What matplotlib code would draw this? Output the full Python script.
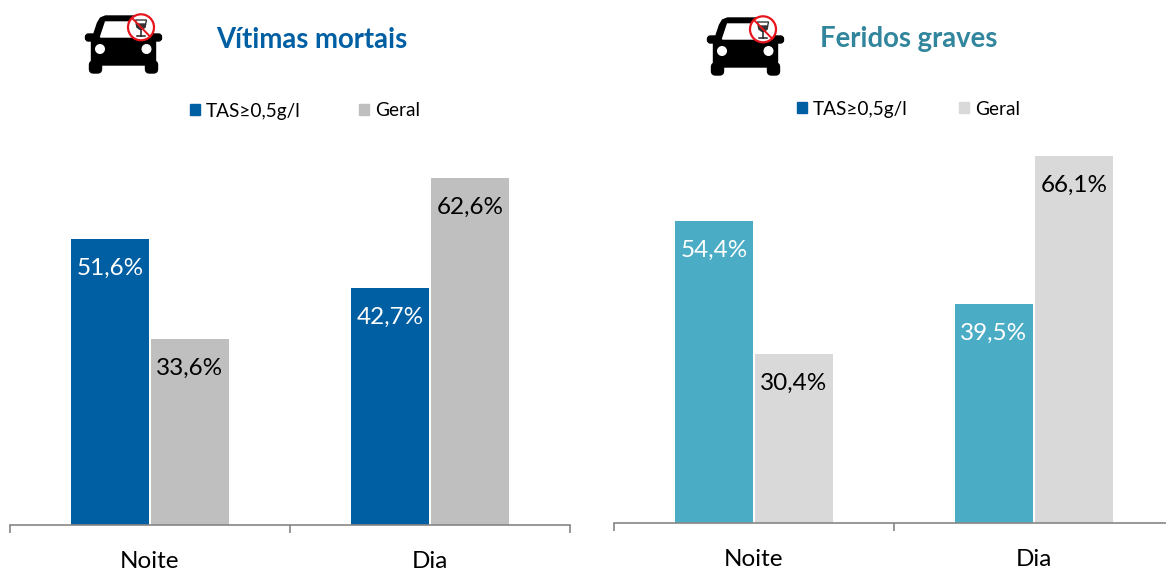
import matplotlib
matplotlib.use('Agg')
import matplotlib.pyplot as plt
from matplotlib.patches import Patch, Polygon, Circle, FancyBboxPatch

plt.rcParams['font.family'] = ['Lato', 'DejaVu Sans']

W, H = 1166, 571

categories = ['Noite', 'Dia']
series_names = ['TAS≥0,5g/l', 'Geral']

mortais_tas = [51.6, 42.7]
mortais_geral = [33.6, 62.6]
graves_tas = [54.4, 39.5]
graves_geral = [30.4, 66.1]


def fmt(v):
    return f'{v:.1f}%'.replace('.', ',')


def draw_panel(fig, left, base, values_a, values_b, color_a, color_b, legend_a, legend_b,
               legend_xy, col_space):
    # 280 px per category, 5.55 px per percent point
    ax = fig.add_axes([left / W, (H - base) / H, 560 / W, 400 / H])
    ax.set_xlim(0, 2)
    ax.set_ylim(0, 400 / 5.55)
    ax.patch.set_alpha(0)
    bw = 78 / 280
    off = 40 / 280
    for i in range(len(categories)):
        x = i + 0.5
        ax.bar(x - off, values_a[i], bw, color=color_a)
        ax.bar(x + off, values_b[i], bw, color=color_b)
        ax.annotate(fmt(values_a[i]), (x - off, values_a[i]), xytext=(0, -21.2),
                    textcoords='offset points', ha='center', va='center',
                    color='white', fontsize=17.5)
        ax.annotate(fmt(values_b[i]), (x + off, values_b[i]), xytext=(0, -21.2),
                    textcoords='offset points', ha='center', va='center',
                    color='black', fontsize=17.5)
    for s in ['top', 'left', 'right']:
        ax.spines[s].set_visible(False)
    ax.spines['bottom'].set_color('#868686')
    ax.spines['bottom'].set_linewidth(1.2)
    ax.set_yticks([])
    ax.set_xticks([0, 1, 2])
    ax.set_xticklabels([])
    ax.tick_params(axis='x', which='major', length=6, width=1.2, color='#868686')
    ax.set_xticks([0.5, 1.5], minor=True)
    ax.set_xticklabels(categories, minor=True, fontsize=17.5, color='black')
    ax.tick_params(axis='x', which='minor', length=0, pad=19)
    handles = [Patch(color=legend_a, label=series_names[0]),
               Patch(color=legend_b, label=series_names[1])]
    fig.legend(handles=handles, loc='center left', frameon=False, ncol=2, fontsize=13.7,
               bbox_to_anchor=(legend_xy[0] / W, 1 - legend_xy[1] / H),
               bbox_transform=fig.transFigure, borderpad=0, borderaxespad=0,
               handlelength=0.53, handleheight=0.53, handletextpad=0.32,
               columnspacing=col_space)
    return ax


def draw_car(ov, ox, oy):
    # icon outline in local pixels, origin at top left of the car
    def p(x, y):
        return (ox + x, oy + y)
    k = 'black'
    ov.add_patch(Polygon([p(6, 26), p(12, 8), p(15, 3), p(20, 1), p(56, 1), p(61, 3), p(64, 8), p(70, 26)],
                         closed=True, color=k))
    ov.add_patch(FancyBboxPatch(p(6, 22), 64, 28, boxstyle='round,pad=0,rounding_size=5', color=k))
    ov.add_patch(FancyBboxPatch(p(0, 19), 10, 7, boxstyle='round,pad=0,rounding_size=3', color=k))
    ov.add_patch(FancyBboxPatch(p(66, 19), 10, 7, boxstyle='round,pad=0,rounding_size=3', color=k))
    ov.add_patch(FancyBboxPatch(p(4, 46), 12, 12, boxstyle='round,pad=0,rounding_size=4', color=k))
    ov.add_patch(FancyBboxPatch(p(60, 46), 12, 12, boxstyle='round,pad=0,rounding_size=4', color=k))
    ov.add_patch(Polygon([p(15, 22), p(20, 7), p(56, 7), p(61, 22)], closed=True, color='white'))
    ov.add_patch(Circle(p(14.5, 34), 4.3, color='white'))
    ov.add_patch(Circle(p(61, 34), 4.3, color='white'))
    # no-alcohol sign
    ov.add_patch(Circle(p(55.5, 12.3), 13, facecolor='white', edgecolor='#E8141C', linewidth=1.6))
    ov.add_patch(Polygon([p(50, 5), p(61, 5), p(59.5, 12), p(57, 14), p(54, 14), p(51.5, 12)],
                         closed=True, facecolor='white', edgecolor='#222222', linewidth=0.9))
    ov.add_patch(Polygon([p(50.8, 9), p(60.2, 9), p(59.5, 12), p(57, 14), p(54, 14), p(51.5, 12)],
                         closed=True, color='#333333'))
    ov.plot([ox + 55.5, ox + 55.5], [oy + 14, oy + 21], color='#222222', lw=1.1)
    ov.plot([ox + 51.5, ox + 59.5], [oy + 21, oy + 21], color='#222222', lw=1.1)
    ov.plot([ox + 46.5, ox + 64.5], [oy + 3, oy + 21.5], color='#E8141C', lw=1.4)


fig = plt.figure(figsize=(W / 100, H / 100), dpi=100)

draw_panel(fig, 10, 525, mortais_tas, mortais_geral, '#005FA3', '#BFBFBF', '#005FA3', '#BFBFBF',
           (190, 111), 3.05)
draw_panel(fig, 614, 523, graves_tas, graves_geral, '#4BACC6', '#D9D9D9', '#005FA3', '#D9D9D9',
           (797, 109), 2.7)

ov = fig.add_axes([0, 0, 1, 1])
ov.set_xlim(0, W)
ov.set_ylim(H, 0)
ov.axis('off')
ov.patch.set_alpha(0)
draw_car(ov, 85.5, 15)
draw_car(ov, 707.5, 17)

fig.text(312 / W, 1 - 40 / H, 'Vítimas mortais', ha='center', va='center',
         fontsize=19.8, fontweight='bold', color='#005FA3')
fig.text(908.5 / W, 1 - 39 / H, 'Feridos graves', ha='center', va='center',
         fontsize=19.8, fontweight='bold', color='#31859C')

fig.savefig('out.png', dpi=100)
